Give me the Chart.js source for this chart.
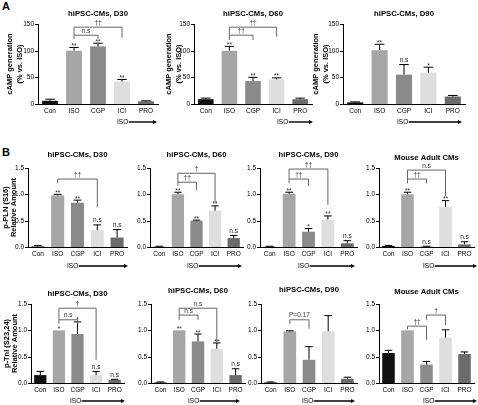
<!DOCTYPE html>
<html>
<head>
<meta charset="utf-8">
<script src="https://cdn.jsdelivr.net/npm/chart.js@4.4.1/dist/chart.umd.min.js"></script>
<style>
  body { margin:0; background:#fff; width:478px; height:405px; position:relative; overflow:hidden; font-family:"Liberation Sans", Arial, sans-serif; }
  canvas { position:absolute; }
  .tag { position:absolute; font-weight:bold; font-size:11px; line-height:11px; }
</style>
</head>
<body>
<div class="tag" style="left:2px;top:1px">A</div>
<div class="tag" style="left:2px;top:147px">B</div>
<script>
/* ===== data ===== */
const categories = ['Con', 'ISO', 'CGP', 'ICI', 'PRO'];
const campTicks = [0, 50, 100, 150];
const ratioTicks = [0, 0.5, 1.0, 1.5];

// A: cAMP generation (% vs. ISO)
const campD30 = [6, 100, 108, 42, 5];
const campD30Err = [3, 6, 6, 4, 1];
const campD30Marks = ['', '**', '**', '**', ''];
const campD30Brackets = [[1, 2, 129, 122, 122, 'n.s'], [1, 3, 144, 129, 124, '††']];

const campD60 = [9, 100, 43, 46, 9];
const campD60Err = [2, 8, 7, 3, 2];
const campD60Marks = ['', '**', '**', '**', ''];
const campD60Brackets = [[1, 2, 129, 120, 120, '††'], [1, 3, 144, 129, 126, '††']];

const campD90 = [3, 101, 55, 59, 14];
const campD90Err = [1, 11, 19, 10, 2];
const campD90Marks = ['', '**', 'n.s', '*', ''];
const campD90Brackets = [];

// B: p-PLN (S16) relative amount
const plnD30 = [0.01, 0.98, 0.84, 0.32, 0.18];
const plnD30Err = [0.02, 0.02, 0.05, 0.10, 0.15];
const plnD30Marks = ['', '**', '**', 'n.s', 'n.s'];
const plnD30Brackets = [[1, 3, 1.29, 1.21, 0.76, '††']];

const plnD60 = [0.005, 1.0, 0.5, 0.69, 0.17];
const plnD60Err = [0.01, 0.04, 0.01, 0.09, 0.05];
const plnD60Marks = ['', '**', '**', '**', 'n.s'];
const plnD60Brackets = [[1, 2, 1.23, 1.16, 1.08, '††'], [1, 3, 1.40, 1.23, 0.85, '†']];

const plnD90 = [0.005, 1.01, 0.29, 0.52, 0.07];
const plnD90Err = [0.01, 0.03, 0.06, 0.07, 0.05];
const plnD90Marks = ['', '**', '*', '**', 'n.s'];
const plnD90Brackets = [[1, 2, 1.29, 1.21, 1.16, '††'], [1, 3, 1.48, 1.29, 0.80, '††']];

const plnMouse = [0.02, 1.0, 0.01, 0.76, 0.05];
const plnMouseErr = [0.01, 0.04, 0.005, 0.12, 0.05];
const plnMouseMarks = ['', '**', 'n.s', '**', 'n.s'];
const plnMouseBrackets = [[1, 2, 1.29, 1.21, 1.21, '††'], [1, 3, 1.46, 1.29, 0.97, 'n.s']];

// C: p-TnI (S23,24) relative amount
const tniD30 = [0.15, 1.0, 0.93, 0.15, 0.06];
const tniD30Err = [0.07, 0, 0.23, 0.07, 0.01];
const tniD30Marks = ['', '*', '*', 'n.s', 'n.s'];
const tniD30Brackets = [[1, 2, 1.20, 1.12, 1.12, 'n.s'], [1, 3, 1.42, 1.20, 0.44, '†']];

const tniD60 = [0.01, 1.0, 0.79, 0.65, 0.15];
const tniD60Err = [0.01, 0, 0.14, 0.11, 0.12];
const tniD60Marks = ['', '**', '**', '**', 'n.s'];
const tniD60Brackets = [[1, 2, 1.29, 1.20, 1.20, 'n.s'], [1, 3, 1.42, 1.29, 0.78, 'n.s']];

const tniD90 = [0.01, 0.98, 0.44, 0.98, 0.08];
const tniD90Err = [0.01, 0.01, 0.25, 0.30, 0.03];
const tniD90Marks = ['', '', '', '', ''];
const tniD90Brackets = [[1, 2, 1.20, 1.12, 1.03, 'P=0.17']];

const tniMouse = [0.57, 1.0, 0.35, 0.86, 0.55];
const tniMouseErr = [0.05, 0, 0.06, 0.15, 0.04];
const tniMouseMarks = ['', '', '', '', ''];
const tniMouseBrackets = [[1, 2, 1.08, 1.02, 0.82, '††'], [2, 3, 1.29, 1.20, 1.10, '†']];

/* ===== styling / layout ===== */
const barColors = ['#111111', '#a6a6a6', '#8a8a8a', '#dedede', '#6b6b6b'];
const FONT = '"Liberation Sans", Arial, sans-serif';
const campTitle = ['cAMP generation', '(% vs. ISO)'];

// box = canvas [left, top, w, h]; area = plot [x0, y0, x1, y1]; all in page px
const panels = [
  { title:'hiPSC-CMs, D30', v:campD30, e:campD30Err, m:campD30Marks, br:campD30Brackets, yt:campTicks, dec:0,
    box:[0,0,165,130], area:[38,24,158,104], titleY:14, yTitle:campTitle, yTitleX:[10,20], iso:[117,157,122] },
  { title:'hiPSC-CMs, D60', v:campD60, e:campD60Err, m:campD60Marks, br:campD60Brackets, yt:campTicks, dec:0,
    box:[160,0,158,130], area:[194,24,312,104], titleY:14, yTitle:campTitle, yTitleX:[169,179], iso:[277,313,122] },
  { title:'hiPSC-CMs, D90', v:campD90, e:campD90Err, m:campD90Marks, br:campD90Brackets, yt:campTicks, dec:0,
    box:[312,0,166,130], area:[343,24,465,104], titleY:14, yTitle:campTitle, yTitleX:[316,326], iso:[397,462,122] },

  { title:'hiPSC-CMs, D30', v:plnD30, e:plnD30Err, m:plnD30Marks, br:plnD30Brackets, yt:ratioTicks, dec:1,
    box:[0,130,135,140], area:[28,168,127,247], titleY:155, yTitle:['p-PLN (S16)', 'Relative Amount'], yTitleX:[6,14], iso:[67,128,266] },
  { title:'hiPSC-CMs, D60', v:plnD60, e:plnD60Err, m:plnD60Marks, br:plnD60Brackets, yt:ratioTicks, dec:1,
    box:[118,130,130,140], area:[150,168,243,247], titleY:155, iso:[187,242,266] },
  { title:'hiPSC-CMs, D90', v:plnD90, e:plnD90Err, m:plnD90Marks, br:plnD90Brackets, yt:ratioTicks, dec:1,
    box:[235,130,125,140], area:[260,168,357,247], titleY:155, iso:[298,355,266] },
  { title:'Mouse Adult CMs', v:plnMouse, e:plnMouseErr, m:plnMouseMarks, br:plnMouseBrackets, yt:ratioTicks, dec:1,
    box:[355,130,123,140], area:[379,168,474,247], titleY:158, iso:[423,477,266] },

  { title:'hiPSC-CMs, D30', v:tniD30, e:tniD30Err, m:tniD30Marks, br:tniD30Brackets, yt:ratioTicks, dec:1,
    box:[0,268,135,137], area:[31,304,124,383], titleY:294, yTitle:['p-TnI (S23,24)', 'Relative Amount'], yTitleX:[7,15], iso:[70,125,401] },
  { title:'hiPSC-CMs, D60', v:tniD60, e:tniD60Err, m:tniD60Marks, br:tniD60Brackets, yt:ratioTicks, dec:1,
    box:[118,268,130,137], area:[151,304,245,383], titleY:291, iso:[188,240,401] },
  { title:'hiPSC-CMs, D90', v:tniD90, e:tniD90Err, m:tniD90Marks, br:tniD90Brackets, yt:ratioTicks, dec:1,
    box:[235,268,125,137], area:[261,304,357,383], titleY:290, iso:[302,355,401] },
  { title:'Mouse Adult CMs', v:tniMouse, e:tniMouseErr, m:tniMouseMarks, br:tniMouseBrackets, yt:ratioTicks, dec:1,
    box:[355,268,123,137], area:[379,304,474,383], titleY:292, iso:[423,477,401] }
];

// y ticks, error bars, significance marks, brackets, titles, ISO arrow
function decorFor(p) {
  const ox = p.box[0], oy = p.box[1];
  return {
    id: 'decor',
    afterDraw(chart) {
      const ctx = chart.ctx, ys = chart.scales.y, a = chart.chartArea;
      const bars = chart.getDatasetMeta(0).data;
      ctx.save();
      ctx.strokeStyle = '#000'; ctx.fillStyle = '#000'; ctx.lineWidth = 1;

      // y tick marks and labels, placed by the y scale (left-aligned from measured width)
      ctx.font = '6.5px ' + FONT;
      ctx.textAlign = 'left'; ctx.textBaseline = 'middle';
      p.yt.forEach(v => {
        const y = Math.round(ys.getPixelForValue(v)) + 0.5;
        const label = v.toFixed(p.dec);
        ctx.beginPath(); ctx.moveTo(a.left - 3, y); ctx.lineTo(a.left, y); ctx.stroke();
        ctx.fillText(label, a.left - 4 - ctx.measureText(label).width, y);
      });

      // error bars (upper only)
      bars.forEach((b, i) => {
        if (!p.e[i]) return;
        const top = ys.getPixelForValue(p.v[i] + p.e[i]);
        const base = ys.getPixelForValue(p.v[i]);
        const hw = b.width * 0.3;
        ctx.beginPath();
        ctx.moveTo(b.x, base); ctx.lineTo(b.x, top);
        ctx.moveTo(b.x - hw, top); ctx.lineTo(b.x + hw, top);
        ctx.stroke();
      });

      // significance marks
      ctx.textAlign = 'center'; ctx.textBaseline = 'bottom';
      bars.forEach((b, i) => {
        if (!p.m[i]) return;
        const y = ys.getPixelForValue(p.v[i] + p.e[i]) - 1;
        ctx.fillStyle = '#222';
        ctx.fillText(p.m[i], b.x, y + (p.m[i].includes('*') ? 3 : 0));
      });

      // brackets
      ctx.strokeStyle = '#555'; ctx.lineWidth = 0.9;
      p.br.forEach(([i, j, top, le, re, txt]) => {
        const xi = bars[i].x, xj = bars[j].x, yt = ys.getPixelForValue(top);
        ctx.beginPath();
        ctx.moveTo(xi, ys.getPixelForValue(le)); ctx.lineTo(xi, yt);
        ctx.lineTo(xj, yt); ctx.lineTo(xj, ys.getPixelForValue(re));
        ctx.stroke();
        ctx.fillStyle = '#333';
        ctx.fillText(txt, (xi + xj) / 2, yt - 1);
      });

      // panel title
      ctx.fillStyle = '#000';
      ctx.font = 'bold 7.7px ' + FONT;
      ctx.textBaseline = 'middle';
      ctx.fillText(p.title, (a.left + a.right) / 2, p.titleY - oy);

      // y-axis title
      if (p.yTitle) {
        ctx.font = 'bold 7.5px ' + FONT;
        const cy = (a.top + a.bottom) / 2;
        p.yTitle.forEach((t, k) => {
          ctx.save();
          ctx.translate(p.yTitleX[k] - ox, cy);
          ctx.rotate(-Math.PI / 2);
          ctx.fillText(t, 0, 0);
          ctx.restore();
        });
      }

      // ISO arrow under the treated groups
      const [ix, iend, iy] = p.iso;
      ctx.font = '6.5px ' + FONT;
      ctx.textAlign = 'left';
      ctx.fillText('ISO', ix - ox, iy - oy);
      const lx = ix - ox + ctx.measureText('ISO').width + 0.5, ex = iend - ox, ly = iy - oy;
      ctx.lineWidth = 1.4; ctx.strokeStyle = '#000';
      ctx.beginPath(); ctx.moveTo(lx, ly); ctx.lineTo(ex - 3, ly); ctx.stroke();
      ctx.beginPath(); ctx.moveTo(ex, ly); ctx.lineTo(ex - 4, ly - 2); ctx.lineTo(ex - 4, ly + 2); ctx.closePath(); ctx.fill();
      ctx.restore();
    }
  };
}

function makePanel(p) {
  const [bl, bt, bw, bh] = p.box, [x0, y0, x1, y1] = p.area;
  const cv = document.createElement('canvas');
  cv.width = bw; cv.height = bh;
  cv.style.left = bl + 'px'; cv.style.top = bt + 'px';
  document.body.appendChild(cv);
  const tickFont = { family: FONT, size: 6.5 };
  new Chart(cv, {
    type: 'bar',
    data: { labels: categories, datasets: [{ data: p.v, backgroundColor: barColors, borderWidth: 0, barPercentage: 0.66, categoryPercentage: 1 }] },
    options: {
      responsive: false, animation: false, events: [], devicePixelRatio: 1,
      layout: { padding: { left: 0, top: y0 - bt, right: bl + bw - x1, bottom: 0 } },
      plugins: { legend: { display: false }, tooltip: { enabled: false } },
      scales: {
        x: {
          grid: { display: false, drawTicks: false }, border: { color: '#000' },
          ticks: { color: '#000', font: tickFont, padding: 3, maxRotation: 0 },
          afterFit: s => { s.height = bt + bh - y1; }
        },
        y: {
          min: p.yt[0], max: p.yt[p.yt.length - 1],
          grid: { display: false, drawTicks: false },
          border: { color: '#000' },
          ticks: { display: false },
          afterFit: s => { s.width = x0 - bl; }
        }
      }
    },
    plugins: [decorFor(p)]
  });
}

panels.forEach(makePanel);
</script>
</body>
</html>
